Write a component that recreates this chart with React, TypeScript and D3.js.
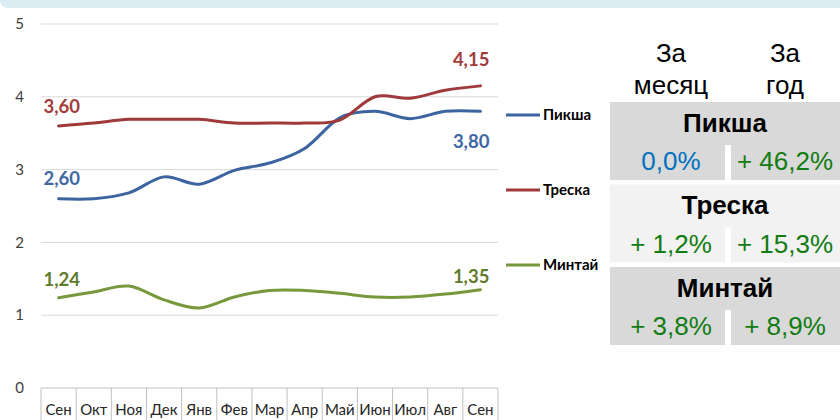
import React from "react";
import * as d3 from "d3";

const months = ["Сен", "Окт", "Ноя", "Дек", "Янв", "Фев", "Мар", "Апр", "Май", "Июн", "Июл", "Авг", "Сен"];

const pikshaValues = [2.6, 2.6, 2.68, 2.9, 2.8, 2.99, 3.09, 3.29, 3.71, 3.8, 3.7, 3.8, 3.8];
const treskaValues = [3.6, 3.64, 3.69, 3.69, 3.69, 3.64, 3.64, 3.64, 3.68, 4.0, 3.98, 4.09, 4.15];
const mintaiValues = [1.24, 1.32, 1.4, 1.21, 1.1, 1.25, 1.34, 1.34, 1.3, 1.25, 1.25, 1.29, 1.35];

const seriesNames = ["Пикша", "Треска", "Минтай"];
const yTicks = [0, 1, 2, 3, 4, 5];

// table on the right
const monthChange = ["0,0%", "+ 1,2%", "+ 3,8%"];
const yearChange = ["+ 46,2%", "+ 15,3%", "+ 8,9%"];

const W = 840;
const H = 420;

const lineColors = ["#3b64a0", "#a0393a", "#77983b"];
const labelColors = ["#4067a4", "#a33b3b", "#5f7b2d"];

export default function App() {
  const x = d3.scaleBand<number>().domain(months.map((_, i) => i)).range([41, 498]).padding(0);
  const cx = (i: number) => (x(i) as number) + x.bandwidth() / 2;
  const y = d3.scaleLinear().domain([0, 5]).range([388, 24]);

  const line = d3
    .line<number>()
    .x((_, i) => cx(i))
    .y((d) => y(d))
    .curve(d3.curveCardinal.tension(0));

  const series = [pikshaValues, treskaValues, mintaiValues];
  const last = months.length - 1;

  // start / end labels (dy offsets from the point)
  const startLabels = [
    { v: pikshaValues[0], dy: -14 },
    { v: treskaValues[0], dy: -13 },
    { v: mintaiValues[0], dy: -12 },
  ];
  const endLabels = [
    { v: pikshaValues[last], dy: 37 },
    { v: treskaValues[last], dy: -20 },
    { v: mintaiValues[last], dy: -7 },
  ];
  const fmt = (v: number) => v.toFixed(2).replace(".", ",");

  const legendY = [115, 190, 265];
  const blockTop = [102, 184.5, 267];
  const blockFill = ["#d9d9d9", "#f2f2f2", "#d9d9d9"];

  return (
    <svg
      width={W}
      height={H}
      style={{ position: "absolute", left: 0, top: 0, background: "#fff" }}
      fontFamily="Lato, 'DejaVu Sans', sans-serif"
    >
      <rect x={0} y={-12} width={W + 20} height={20} rx={8} fill="#dbedf3" />

      {/* gridlines */}
      {yTicks.filter((t) => t > 0).map((t) => (
        <line key={t} x1={41} x2={498} y1={y(t)} y2={y(t)} stroke="#d9d9d9" strokeWidth={1} />
      ))}
      {yTicks.map((t) => (
        <text key={t} x={24} y={y(t)} dy="0.35em" textAnchor="end" fontSize={15} fill="#404040">
          {t}
        </text>
      ))}

      {/* category axis boxes */}
      <line x1={41} x2={498} y1={y(0)} y2={y(0)} stroke="#c0c0c0" />
      {months.map((m, i) => (
        <g key={i}>
          <line x1={x(i) as number} x2={x(i) as number} y1={y(0)} y2={H} stroke="#c0c0c0" />
          <text x={cx(i)} y={415} textAnchor="middle" fontSize={15} fill="#262626">
            {m}
          </text>
        </g>
      ))}
      <line x1={498} x2={498} y1={y(0)} y2={H} stroke="#c0c0c0" />

      {/* lines */}
      {series.map((s, k) => (
        <path
          key={k}
          d={line(s) || ""}
          fill="none"
          stroke={lineColors[k]}
          strokeWidth={3}
          strokeLinecap="round"
        />
      ))}

      {startLabels.map((l, k) => (
        <text
          key={"s" + k}
          x={cx(0) - 15}
          y={y(l.v) + l.dy}
          fontSize={18.5}
          fontWeight="bold"
          fill={labelColors[k]}
        >
          {fmt(l.v)}
        </text>
      ))}
      {endLabels.map((l, k) => (
        <text
          key={"e" + k}
          x={cx(last) + 9}
          y={y(l.v) + l.dy}
          textAnchor="end"
          fontSize={18.5}
          fontWeight="bold"
          fill={labelColors[k]}
        >
          {fmt(l.v)}
        </text>
      ))}

      {/* legend */}
      {seriesNames.map((n, k) => (
        <g key={n}>
          <line x1={506} x2={540} y1={legendY[k]} y2={legendY[k]} stroke={lineColors[k]} strokeWidth={3} />
          <text x={543} y={legendY[k] + 5} fontSize={15} fontWeight="bold" fill="#000">
            {n}
          </text>
        </g>
      ))}

      {/* table */}
      <g fontFamily="'Liberation Sans', Arial, sans-serif">
        <text x={671} y={62} textAnchor="middle" fontSize={26} fill="#000">За</text>
        <text x={671} y={94} textAnchor="middle" fontSize={26} fill="#000">месяц</text>
        <text x={785} y={62} textAnchor="middle" fontSize={26} fill="#000">За</text>
        <text x={785} y={94} textAnchor="middle" fontSize={26} fill="#000">год</text>

        {seriesNames.map((n, k) => {
          const t = blockTop[k];
          return (
            <g key={n}>
              <rect x={610} y={t} width={230} height={78} fill={blockFill[k]} />
              <rect x={725} y={t + 43} width={6} height={36} fill="#fff" />
              <text x={725} y={t + 29.5} textAnchor="middle" fontSize={26} fontWeight="bold" fill="#000">
                {n}
              </text>
              <text
                x={671}
                y={t + 68}
                textAnchor="middle"
                fontSize={26}
                fill={monthChange[k].startsWith("+") ? "#117c11" : "#0070c0"}
              >
                {monthChange[k]}
              </text>
              <text x={785} y={t + 68} textAnchor="middle" fontSize={26} fill="#117c11">
                {yearChange[k]}
              </text>
            </g>
          );
        })}
      </g>
    </svg>
  );
}
